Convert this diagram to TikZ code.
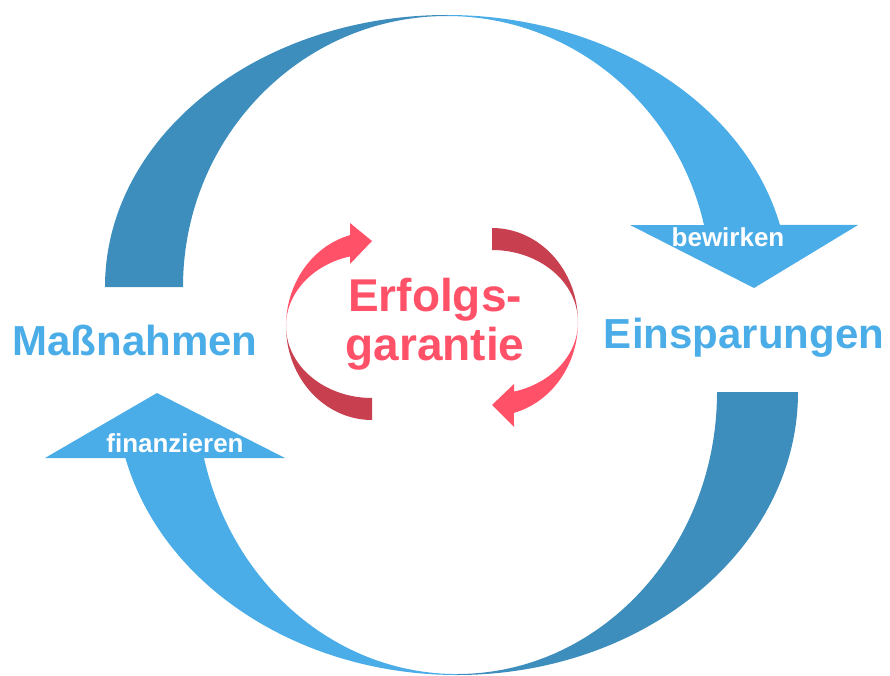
\documentclass[tikz,border=0pt]{standalone}
\usepackage{fontspec}
\setmainfont{Liberation Sans}
\definecolor{backblue}{HTML}{3D8DBD}
\definecolor{frontblue}{HTML}{4BADE8}
\definecolor{backred}{HTML}{C8404F}
\definecolor{frontred}{HTML}{FF5268}
\tikzset{
  sidetext/.style={font=\bfseries\fontsize{42}{50}\selectfont, text=frontblue, anchor=base, inner sep=0pt},
  centretext/.style={font=\bfseries\fontsize{46}{50}\selectfont, text=frontred, anchor=base, inner sep=0pt},
  arrowtext/.style={font=\bfseries\fontsize{26}{30}\selectfont, text=white, anchor=base, inner sep=0pt}
}

\begin{document}
\begin{tikzpicture}[x=1pt, y=-1pt]
    \useasboundingbox (0,0) rectangle (890,676);
    % big loop, upper half
    \fill [backblue] (105,287) arc [start angle=180, end angle=270, x radius=342, y radius=272] -- (447,16) arc [start angle=270, end angle=180, x radius=264, y radius=271] -- cycle;
    \fill [frontblue] (447,15) arc [start angle=270, end angle=346.8, x radius=342, y radius=272] -- (858,225) -- (754,288) -- (630,225) -- (704,225) arc [start angle=346.77, end angle=270, x radius=264, y radius=271] -- cycle;
    % big loop, lower half
    \fill [backblue] (798,392) arc [start angle=0, end angle=90, x radius=341, y radius=283] -- (457,674) arc [start angle=90, end angle=0, x radius=260, y radius=282] -- cycle;
    \fill [frontblue] (457,675) arc [start angle=90, end angle=166.5, x radius=341, y radius=283] -- (45,458) -- (157,393) -- (285,458) -- (204,458) arc [start angle=166.47, end angle=90, x radius=260, y radius=282] -- cycle;
    % small loop
    \fill [backred] (372,420) arc [start angle=90, end angle=180, x radius=86, y radius=94] arc [start angle=180, end angle=90, x radius=86, y radius=72] -- cycle;
    \fill [frontred] (286,326) arc [start angle=180, end angle=255.2, x radius=86, y radius=94] -- (350,223) -- (372,241) -- (350,264) -- (350,256.4) arc [start angle=255.2, end angle=180, x radius=86, y radius=72] -- cycle;
    \fill [backred] (492,228) arc [start angle=270, end angle=360, x radius=86, y radius=94] arc [start angle=0, end angle=-90, x radius=86, y radius=72] -- cycle;
    \fill [frontred] (578,322) arc [start angle=0, end angle=75.2, x radius=86, y radius=94] -- (514,427) -- (492,405) -- (514,384) -- (514,391.6) arc [start angle=75.2, end angle=0, x radius=86, y radius=72] -- cycle;
    % texts
    \node [sidetext] (massnahmen) at (135,355) {Maßnahmen};
    \node [sidetext] (einsparungen) at (744,348) {Einsparungen};
    \node [centretext] (erfolgs) at (435,311) {Erfolgs-};
    \node [centretext] (garantie) at (435,360) {garantie};
    \node [arrowtext] (bewirken) at (728,246) {bewirken};
    \node [arrowtext] (finanzieren) at (175,452) {finanzieren};
\end{tikzpicture}
\end{document}
